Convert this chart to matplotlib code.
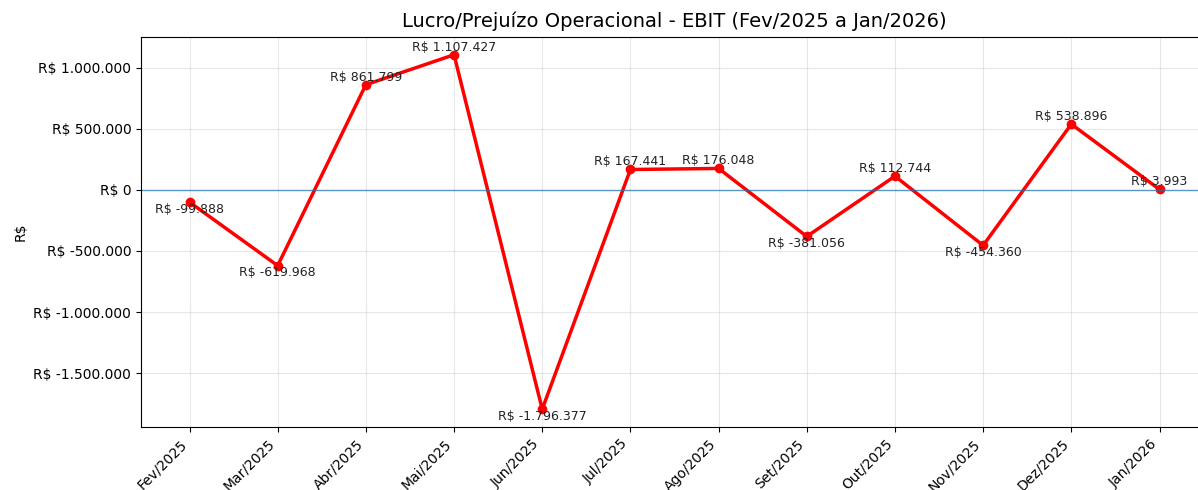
import matplotlib
matplotlib.use("Agg")
import matplotlib.pyplot as plt
from matplotlib.ticker import FuncFormatter

# EBIT mensal
meses = ["Fev/2025", "Mar/2025", "Abr/2025", "Mai/2025", "Jun/2025", "Jul/2025",
         "Ago/2025", "Set/2025", "Out/2025", "Nov/2025", "Dez/2025", "Jan/2026"]
ebit = [-99888, -619968, 861799, 1107427, -1796377, 167441,
        176048, -381056, 112744, -454360, 538896, 3993]


def brl(v):
    return "R$ " + f"{v:,.0f}".replace(",", ".")


fig = plt.figure(figsize=(11.98, 4.9), dpi=100)
ax = fig.add_axes([141 / 1198, 63 / 490, 1067 / 1198, 390 / 490])

x = list(range(len(meses)))
ax.plot(x, ebit, color="red", linewidth=2.5, marker="o", markersize=6)
ax.axhline(0, color="#1f77b4", linewidth=1, alpha=0.7)

# rotulos dos pontos: acima se positivo, abaixo se negativo
for xi, v in zip(x, ebit):
    if v >= 0:
        ax.annotate(brl(v), (xi, v), xytext=(0, 3), textcoords="offset points",
                    ha="center", fontsize=9, color="#222222")
    else:
        ax.annotate(brl(v), (xi, v), xytext=(0, -7.5), textcoords="offset points",
                    ha="center", va="baseline", fontsize=9, color="#222222")

ax.set_xticks(x)
ax.set_xticklabels(meses, rotation=45, ha="right", fontsize=10)
ax.yaxis.set_major_formatter(FuncFormatter(lambda v, p: brl(v)))
ax.tick_params(axis="y", labelsize=10)
ax.set_ylabel("R$", fontsize=10)
ax.set_title("Lucro/Prejuízo Operacional - EBIT (Fev/2025 a Jan/2026)", fontsize=14, pad=7)
ax.grid(True, alpha=0.3)

fig.savefig("out.png", dpi=100)
